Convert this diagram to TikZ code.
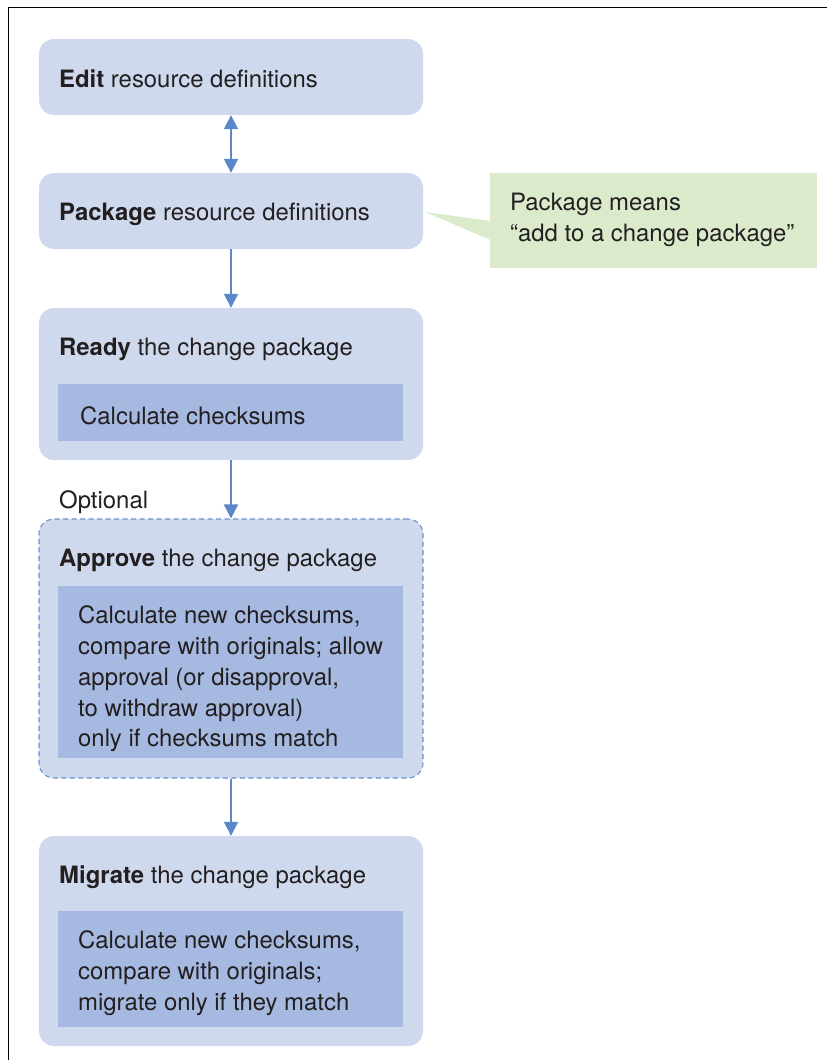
\documentclass[tikz,border=0pt]{standalone}
\usepackage{fontspec}
\setmainfont{TeX Gyre Heros}
\usetikzlibrary{arrows.meta}
\definecolor{outerfill}{HTML}{CFD9EE}
\definecolor{innerfill}{HTML}{A6B9E0}
\definecolor{arrowblue}{HTML}{5B86C8}
\definecolor{dashblue}{HTML}{6B90CC}
\definecolor{notefill}{HTML}{DAEACB}
\definecolor{ink}{HTML}{231F20}
\begin{document}
\begin{tikzpicture}[x=1pt,y=-1pt,
  every node/.style={text=ink,font=\fontsize{23.9}{30.7}\selectfont},
  outerbox/.style={fill=outerfill,draw=none,rounded corners=15pt,inner sep=0pt,
    minimum width=384pt},
  innerbox/.style={fill=innerfill,draw=none,inner sep=0pt,minimum width=345pt},
  label/.style={anchor=west,inner sep=0pt,align=left},
  arr/.style={draw=arrowblue,line width=1.8pt,
    -{Triangle[length=14pt,width=14pt]}},
  darr/.style={draw=arrowblue,line width=1.8pt,
    {Triangle[length=14pt,width=14pt]}-{Triangle[length=14pt,width=14pt]}}]
  \useasboundingbox (0,0) rectangle (827,1060);
  \fill[white] (0,0) rectangle (827,1060);
  % frame edges
  \draw[black,line width=1.2pt] (8.5,1060) -- (8.5,7.5) -- (827,7.5);

  % step boxes
  \node[outerbox,minimum height=76pt] (edit) at (231,77) {};
  \node[label] (editt) at (59,79) {\textbf{Edit} resource definitions};

  \node[outerbox,minimum height=76pt] (pkg) at (231,211) {};
  \node[label] (pkgt) at (59,214) {\textbf{Package} resource definitions};

  \node[outerbox,minimum height=152pt] (ready) at (231,384) {};
  \node[label] (readyt) at (59,349) {\textbf{Ready} the change package};
  \node[innerbox,minimum height=57pt] (readyin) at (230.5,412.5) {};
  \node[label] (readyint) at (80,416) {Calculate checksums};

  \node[outerbox,minimum height=259pt,draw=dashblue,line width=1.1pt,
    dash pattern=on 5pt off 3.5pt] (approve) at (231,648.5) {};
  \node[label] (approvet) at (59,560) {\textbf{Approve} the change package};
  \node[innerbox,minimum height=172pt] (approvein) at (230.5,672) {};
  \node[label] (approveint) at (78,679) {Calculate new checksums,\\
    compare with originals; allow\\approval (or disapproval,\\
    to withdraw approval)\\only if checksums match};

  \node[outerbox,minimum height=210pt] (migrate) at (231,941) {};
  \node[label] (migratet) at (59,877) {\textbf{Migrate} the change package};
  \node[innerbox,minimum height=116pt] (migratein) at (230.5,969) {};
  \node[label] (migrateint) at (78,973) {Calculate new checksums,\\
    compare with originals;\\migrate only if they match};

  \node[label] (optional) at (59,502) {Optional};

  % note with pointer
  \fill[notefill] (425,212) -- (491,221) -- (491,240) -- cycle;
  \node[fill=notefill,inner sep=0pt,minimum width=327pt,minimum height=95pt]
    (note) at (653.5,220.5) {};
  \node[label] (notet) at (510,220) {Package means\\``add to a change package''};

  % connectors
  \draw[darr] (edit.south) -- (pkg.north);
  \draw[arr] (pkg.south) -- (ready.north);
  \draw[arr] (ready.south) -- (approve.north);
  \draw[arr] (approve.south) -- (migrate.north);
\end{tikzpicture}
\end{document}
